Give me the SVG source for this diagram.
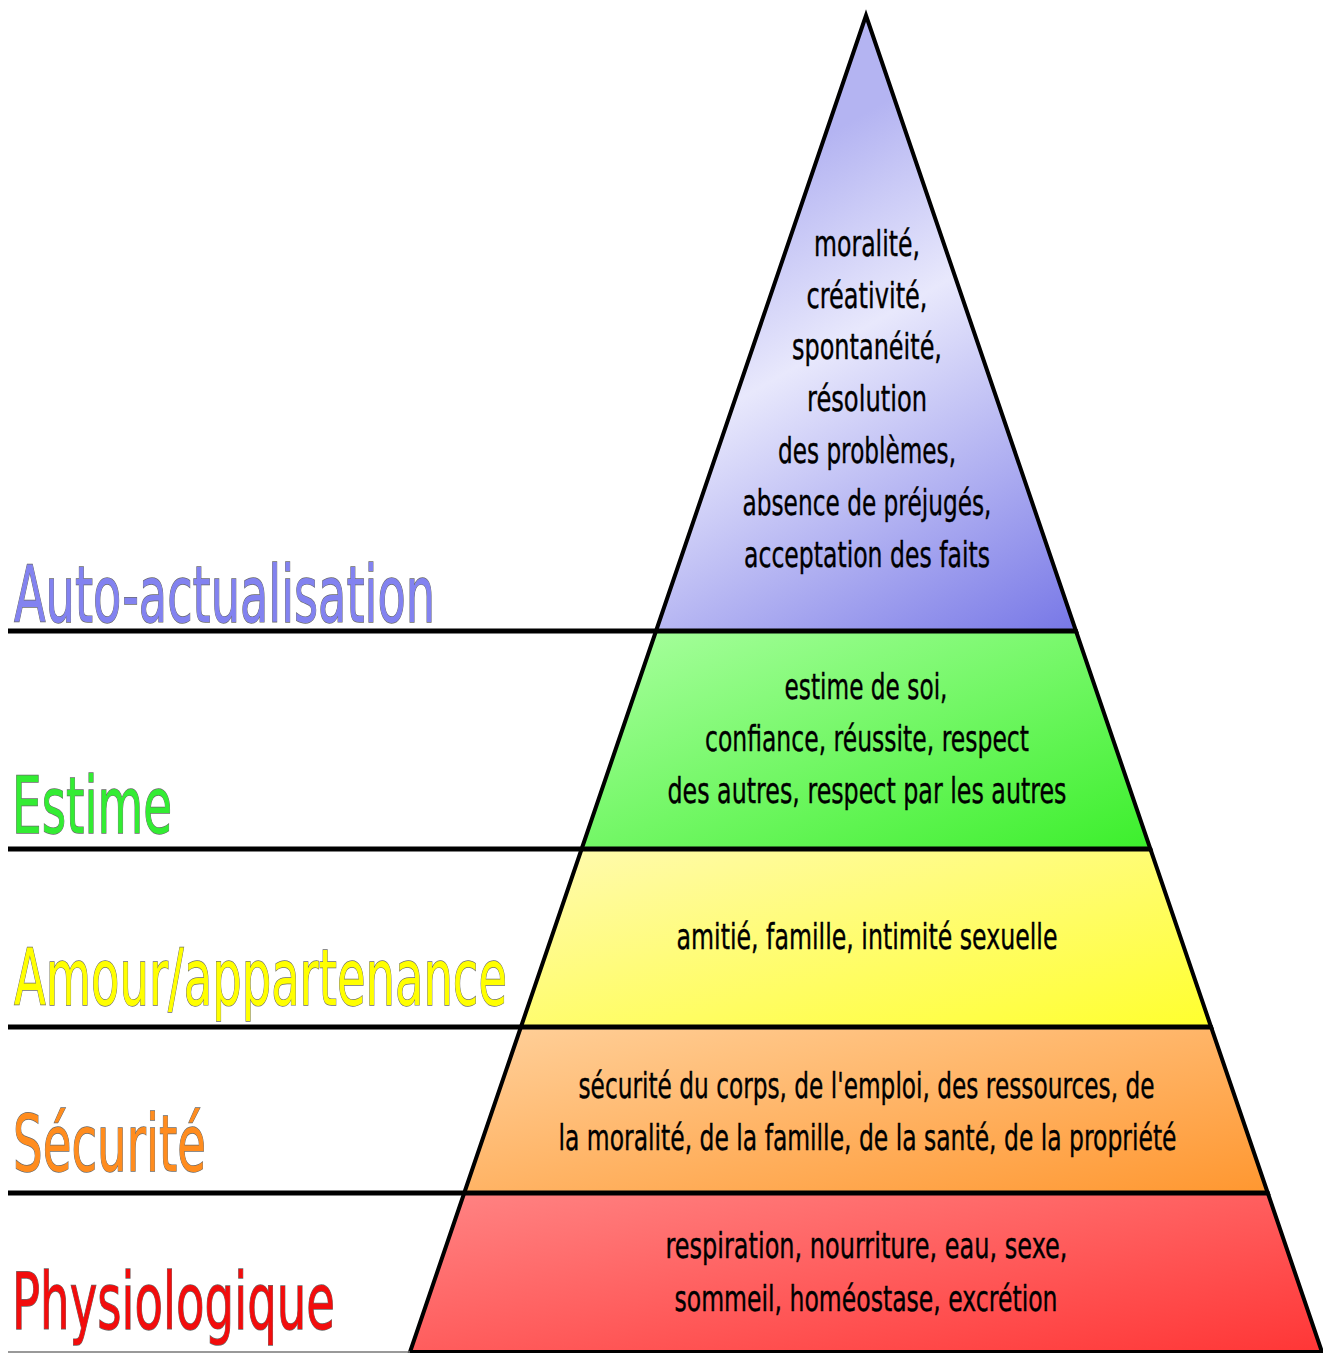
<svg xmlns="http://www.w3.org/2000/svg" width="1323" height="1353" viewBox="0 0 1323 1353">
<style>
.band{stroke:#000;stroke-width:4;stroke-linejoin:miter}
.t{font-family:"DejaVu Sans","Liberation Sans",sans-serif;font-size:36px;fill:#000;text-anchor:middle;stroke:#000;stroke-width:0.4}
.lbl{font-family:"DejaVu Sans","Liberation Sans",sans-serif;font-size:78px;stroke:#6a6a6a;stroke-width:1.4;paint-order:stroke}
.div{stroke:#000;stroke-width:5;fill:none}
</style>
<defs>
<linearGradient id="gBlue" gradientUnits="userSpaceOnUse" x1="800" y1="150" x2="1080" y2="640">
<stop offset="0" stop-color="#b4b4f2"/>
<stop offset="0.33" stop-color="#e8e8fc"/>
<stop offset="1" stop-color="#7474e6"/>
</linearGradient>
<linearGradient id="gGreen" x1="0" y1="0" x2="1" y2="1">
<stop offset="0" stop-color="#aaffa0"/>
<stop offset="1" stop-color="#3cef2c"/>
</linearGradient>
<linearGradient id="gYellow" x1="0" y1="0" x2="1" y2="1">
<stop offset="0" stop-color="#fffab0"/>
<stop offset="1" stop-color="#ffff2e"/>
</linearGradient>
<linearGradient id="gOrange" x1="0" y1="0" x2="1" y2="1">
<stop offset="0" stop-color="#ffd09a"/>
<stop offset="1" stop-color="#ff9730"/>
</linearGradient>
<linearGradient id="gRed" x1="0" y1="0" x2="1" y2="1">
<stop offset="0" stop-color="#ff8484"/>
<stop offset="1" stop-color="#ff3636"/>
</linearGradient>
</defs>
<rect width="1323" height="1353" fill="#fff"/>

<g id="level-auto-actualisation">
<polygon class="band" fill="url(#gBlue)" points="866,15.5 1076,631 656,631"/>
<text class="t" x="867" y="256" textLength="106" lengthAdjust="spacingAndGlyphs">moralité,</text>
<text class="t" x="867" y="308" textLength="121" lengthAdjust="spacingAndGlyphs">créativité,</text>
<text class="t" x="867" y="359" textLength="150" lengthAdjust="spacingAndGlyphs">spontanéité,</text>
<text class="t" x="867" y="411" textLength="120" lengthAdjust="spacingAndGlyphs">résolution</text>
<text class="t" x="867" y="463" textLength="178" lengthAdjust="spacingAndGlyphs">des problèmes,</text>
<text class="t" x="867" y="515" textLength="249" lengthAdjust="spacingAndGlyphs">absence de préjugés,</text>
<text class="t" x="867" y="567" textLength="246" lengthAdjust="spacingAndGlyphs">acceptation des faits</text>
<text class="lbl" x="14" y="622" fill="#8282f0" textLength="421" lengthAdjust="spacingAndGlyphs">Auto-actualisation</text>
</g>

<g id="level-estime">
<polygon class="band" fill="url(#gGreen)" points="656,631 1076,631 1150.4,849 581.6,849"/>
<text class="t" x="866" y="699" textLength="163" lengthAdjust="spacingAndGlyphs">estime de soi,</text>
<text class="t" x="867" y="751" textLength="324" lengthAdjust="spacingAndGlyphs">confiance, réussite, respect</text>
<text class="t" x="867" y="803" textLength="399" lengthAdjust="spacingAndGlyphs">des autres, respect par les autres</text>
<text class="lbl" x="12" y="833" fill="#33ec33" textLength="160" lengthAdjust="spacingAndGlyphs">Estime</text>
</g>

<g id="level-amour">
<polygon class="band" fill="url(#gYellow)" points="581.6,849 1150.4,849 1211.1,1027 520.9,1027"/>
<text class="t" x="867" y="949" textLength="381" lengthAdjust="spacingAndGlyphs">amitié, famille, intimité sexuelle</text>
<text class="lbl" x="14" y="1005" fill="#ffff00" textLength="493" lengthAdjust="spacingAndGlyphs">Amour/appartenance</text>
</g>

<g id="level-securite">
<polygon class="band" fill="url(#gOrange)" points="520.9,1027 1211.1,1027 1267.8,1193 464.2,1193"/>
<text class="t" x="866.5" y="1098" textLength="576" lengthAdjust="spacingAndGlyphs">sécurité du corps, de l'emploi, des ressources, de</text>
<text class="t" x="867.5" y="1150" textLength="618" lengthAdjust="spacingAndGlyphs">la moralité, de la famille, de la santé, de la propriété</text>
<text class="lbl" x="13" y="1171" fill="#ff8c1e" textLength="193" lengthAdjust="spacingAndGlyphs">Sécurité</text>
</g>

<g id="level-physiologique">
<polygon class="band" fill="url(#gRed)" points="464.2,1193 1267.8,1193 1322,1352 410,1352"/>
<text class="t" x="866.5" y="1258" textLength="402" lengthAdjust="spacingAndGlyphs">respiration, nourriture, eau, sexe,</text>
<text class="t" x="866" y="1311" textLength="383" lengthAdjust="spacingAndGlyphs">sommeil, homéostase, excrétion</text>
<text class="lbl" x="12" y="1329" fill="#f20c0c" textLength="323" lengthAdjust="spacingAndGlyphs">Physiologique</text>
</g>

<g id="connectors">
<line class="div" x1="8" y1="631" x2="1076" y2="631"/>
<line class="div" x1="8" y1="849" x2="1150.4" y2="849"/>
<line class="div" x1="8" y1="1027" x2="1211.1" y2="1027"/>
<line class="div" x1="8" y1="1193" x2="1267.8" y2="1193"/>
<line x1="8" y1="1352" x2="410" y2="1352" stroke="#777" stroke-width="1.5"/>
</g>
</svg>
